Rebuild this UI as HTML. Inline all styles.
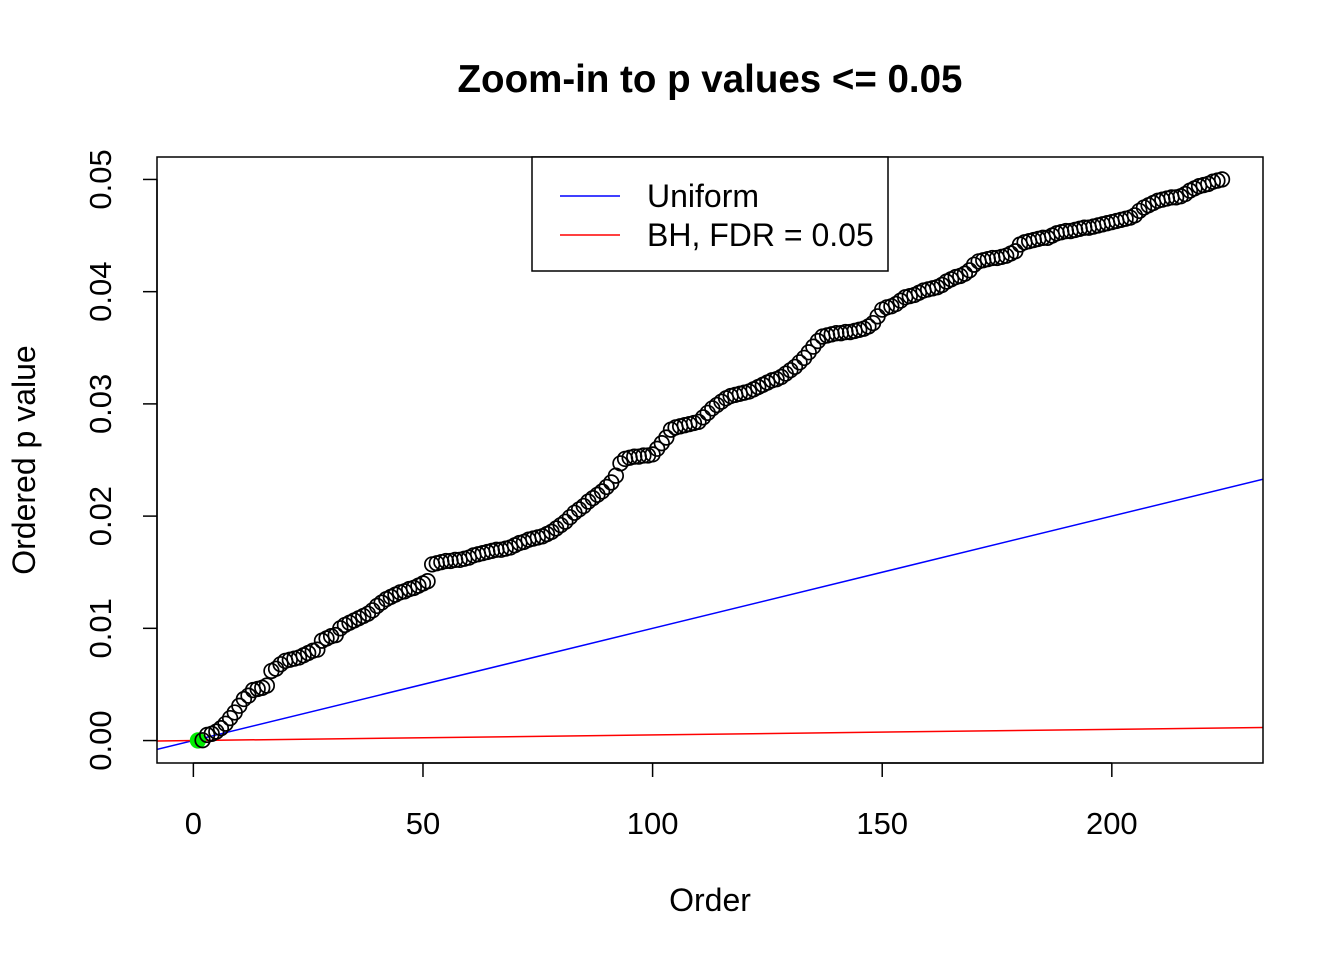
<!DOCTYPE html>
<html><head><meta charset="utf-8"><style>
body{margin:0;background:#fff}
svg text{font-family:"Liberation Sans",Arial,sans-serif;fill:#000}
</style></head><body>
<svg id="chart" width="1344" height="960" xmlns="http://www.w3.org/2000/svg">
<text x="710" y="92" font-size="38.5" font-weight="bold" text-anchor="middle">Zoom-in to p values &lt;= 0.05</text>
<text x="710" y="911" font-size="32" text-anchor="middle">Order</text>
<text transform="translate(35,460) rotate(-90)" font-size="32" text-anchor="middle">Ordered p value</text>
<g id="marks"></g>
<rect x="157" y="157" width="1106" height="606" fill="none" stroke="#000" stroke-width="1.5"/>
<g>
<rect x="532" y="157" width="356" height="114" fill="#fff" stroke="#000" stroke-width="1.5"/>
<line x1="560" y1="196" x2="620" y2="196" stroke="#0000ff" stroke-width="1.5"/>
<text x="647" y="207" font-size="32">Uniform</text>
<line x1="560" y1="235" x2="620" y2="235" stroke="#ff0000" stroke-width="1.5"/>
<text x="647" y="246" font-size="32">BH, FDR = 0.05</text>
</g>
</svg>
<script>
const pvals=[0.00001,0.00003,0.0005,0.0006,0.0008,0.0011,0.0015,0.0020,0.0025,0.0031,
0.0037,0.0040,0.0045,0.0046,0.0047,0.0049,0.0062,0.0064,0.0068,0.0071,
0.0072,0.0073,0.0074,0.0076,0.0078,0.0080,0.0081,0.0089,0.0091,0.0093,
0.0094,0.0100,0.0103,0.0105,0.0107,0.0109,0.0111,0.0113,0.0116,0.0120,
0.0123,0.0126,0.0128,0.0130,0.0132,0.0133,0.0135,0.0136,0.0138,0.0140,
0.0142,0.0157,0.0158,0.0159,0.0160,0.0160,0.0161,0.0161,0.0162,0.0163,
0.0165,0.0166,0.0167,0.0168,0.0169,0.0170,0.0170,0.0171,0.0172,0.0174,
0.0176,0.0177,0.0179,0.0180,0.0181,0.0182,0.0184,0.0186,0.0189,0.0192,
0.0195,0.0199,0.0203,0.0206,0.0209,0.0213,0.0216,0.0219,0.0222,0.0226,
0.0230,0.0236,0.0247,0.0251,0.0252,0.0253,0.0253,0.0254,0.0254,0.0255,
0.0260,0.0265,0.0270,0.0277,0.0279,0.0280,0.0281,0.0282,0.0283,0.0284,
0.0288,0.0292,0.0296,0.0299,0.0302,0.0305,0.0307,0.0308,0.0309,0.0310,
0.0311,0.0313,0.0315,0.0317,0.0319,0.0321,0.0322,0.0324,0.0327,0.0330,
0.0333,0.0337,0.0341,0.0346,0.0351,0.0356,0.0360,0.0361,0.0362,0.0363,
0.0363,0.0364,0.0364,0.0365,0.0366,0.0367,0.0369,0.0372,0.0378,0.0384,
0.0386,0.0387,0.0389,0.0392,0.0395,0.0396,0.0397,0.0399,0.0401,0.0402,
0.0403,0.0404,0.0406,0.0409,0.0411,0.0413,0.0414,0.0416,0.0419,0.0424,
0.0427,0.0428,0.0429,0.0430,0.0430,0.0431,0.0432,0.0434,0.0436,0.0442,
0.0444,0.0445,0.0446,0.0447,0.0448,0.0448,0.0450,0.0452,0.0453,0.0454,
0.0454,0.0455,0.0456,0.0457,0.0457,0.0458,0.0459,0.0460,0.0461,0.0462,
0.0463,0.0464,0.0465,0.0466,0.0468,0.0472,0.0475,0.0477,0.0479,0.0481,
0.0482,0.0483,0.0484,0.0484,0.0485,0.0487,0.0490,0.0492,0.0494,0.0495,
0.0496,0.0498,0.0499,0.0500];
const significantCount=1;
const xTicks=[0,50,100,150,200];
const yTicks=[0,0.01,0.02,0.03,0.04,0.05];
const yTickLabels=["0.00","0.01","0.02","0.03","0.04","0.05"];
const uniformSlope=0.0001;
const bhSlope=0.05/10000;

const NS="http://www.w3.org/2000/svg";
const svg=document.getElementById('chart');
const g=document.getElementById('marks');
const n=pvals.length;
const xmin=1-0.04*(n-1), xmax=n+0.04*(n-1);
const ymin=-0.04*0.05, ymax=0.05*1.04;
const L=157,R=1263,T=157,B=763;
const X=v=>L+(v-xmin)/(xmax-xmin)*(R-L);
const Y=v=>B-(v-ymin)/(ymax-ymin)*(B-T);
function mk(tag,attrs){const e=document.createElementNS(NS,tag);for(const k in attrs)e.setAttribute(k,attrs[k]);return e;}

const defs=mk('defs',{});const cp=mk('clipPath',{id:'clip'});cp.appendChild(mk('rect',{x:L,y:T,width:R-L,height:B-T}));defs.appendChild(cp);svg.insertBefore(defs,svg.firstChild);

const lu=mk('line',{x1:L,y1:Y(xmin*uniformSlope),x2:R,y2:Y(xmax*uniformSlope),stroke:'#0000ff','stroke-width':1.5,'clip-path':'url(#clip)'});


g.appendChild(lu);
const lb=mk('line',{x1:L,y1:Y(xmin*bhSlope),x2:R,y2:Y(xmax*bhSlope),stroke:'#ff0000','stroke-width':1.5,'clip-path':'url(#clip)'});


g.appendChild(lb);

pvals.forEach((p,i)=>{
  const sig=i<significantCount;
  const c=mk('circle',{cx:X(i+1),cy:Y(p),r:7.3,fill:sig?'#00ee00':'none',stroke:sig?'#00ee00':'#000','stroke-width':1.7});
  
  
  g.appendChild(c);
});

const xa=mk('line',{x1:X(xTicks[0]),y1:B,x2:X(xTicks[xTicks.length-1]),y2:B,stroke:'#000','stroke-width':1.5});


svg.appendChild(xa);
xTicks.forEach(t=>{
  const tk=mk('line',{x1:X(t),y1:B,x2:X(t),y2:B+14,stroke:'#000','stroke-width':1.5});
  
  
  svg.appendChild(tk);
  const tx=mk('text',{x:X(t),y:834,'font-size':31,'text-anchor':'middle'});
  tx.textContent=String(t);
  
  
  svg.appendChild(tx);
});
const ya=mk('line',{x1:L,y1:Y(yTicks[0]),x2:L,y2:Y(yTicks[yTicks.length-1]),stroke:'#000','stroke-width':1.5});


svg.appendChild(ya);
yTicks.forEach((t,i)=>{
  const tk=mk('line',{x1:L-14,y1:Y(t),x2:L,y2:Y(t),stroke:'#000','stroke-width':1.5});
  
  
  svg.appendChild(tk);
  const tx=mk('text',{transform:`translate(111,${Y(t)}) rotate(-90)`,'font-size':31,'text-anchor':'middle'});
  tx.textContent=yTickLabels[i];
  
  
  svg.appendChild(tx);
});
</script>
</body></html>
